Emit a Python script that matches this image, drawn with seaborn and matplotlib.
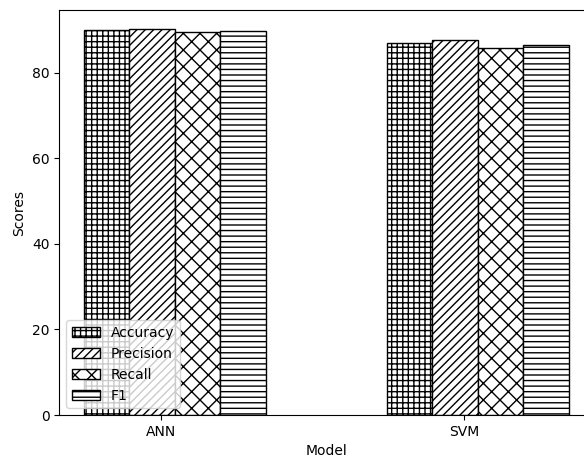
import matplotlib
matplotlib.use("Agg")
import matplotlib.pyplot as plt
import numpy as np
import pandas as pd
import seaborn as sns

models = ["ANN", "SVM"]
metrics = ["Accuracy", "Precision", "Recall", "F1"]
ann_scores = [90.1, 90.2, 89.5, 89.8]
svm_scores = [86.9, 87.7, 85.9, 86.5]
hatches = ["+++", "////", "xx", "---"]

df = pd.DataFrame({
    "Model": [m for m in models for _ in metrics],
    "Metric": metrics * len(models),
    "Scores": ann_scores + svm_scores,
})

fig = plt.figure(figsize=(5.84, 4.65), dpi=100)
# the original figure is cut off on the right, so the axes runs past the edge
ax = fig.add_axes([0.1017, 0.1075, 0.9141, 0.871])

sns.barplot(data=df, x="Model", y="Scores", hue="Metric", order=models,
            hue_order=metrics, palette=["white"] * len(metrics),
            edgecolor="black", linewidth=1, width=0.6, errorbar=None,
            legend=False, ax=ax)

for container, h in zip(ax.containers, hatches):
    for bar in container:
        bar.set_hatch(h)
        bar.set_edgecolor("black")

ax.set_xlim(-0.38, len(models) - 1 + 0.38)
ax.set_ylim(0, max(ann_scores + svm_scores) * 1.05)
ax.set_xticks(np.arange(len(models)) - 0.045, models)
ax.legend(ax.containers, metrics, loc="lower left")

fig.savefig("out.png", dpi=100)
